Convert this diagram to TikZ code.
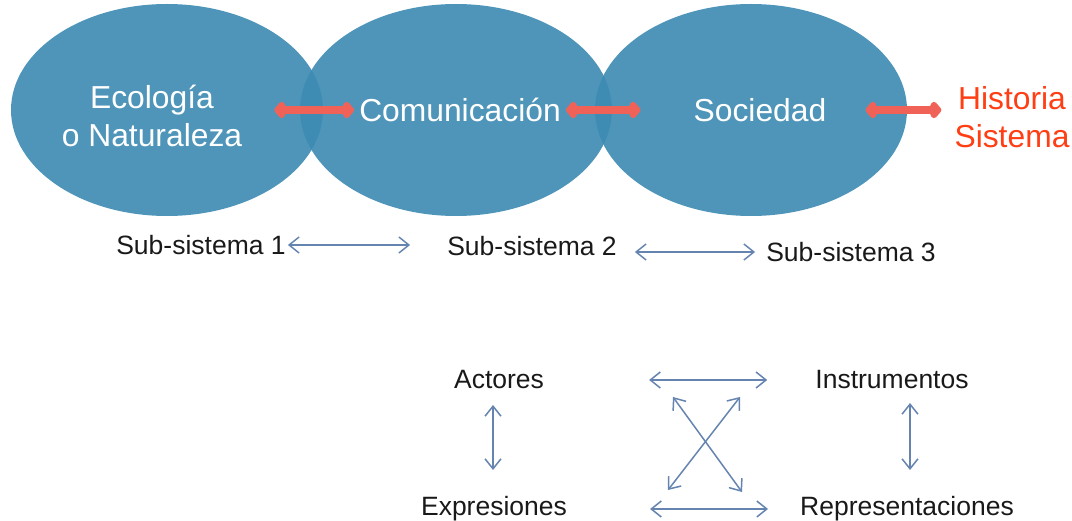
\documentclass[tikz,border=0pt]{standalone}
\usepackage{fontspec}
\setmainfont{Liberation Sans}
\usetikzlibrary{arrows.meta,positioning,shapes.geometric}
\definecolor{circblue}{RGB}{60,138,178}
\definecolor{linkred}{RGB}{240,98,88}
\definecolor{histred}{RGB}{255,62,20}
\definecolor{arrblue}{RGB}{102,132,176}
\tikzset{
  bubble/.style={ellipse, fill=circblue, fill opacity=0.9, minimum width=312, minimum height=212, inner sep=0},
  big/.style={font=\fontsize{31.8}{38}\selectfont, inner sep=0, align=center},
  small/.style={font=\fontsize{26.5}{30}\selectfont, inner sep=0, text=black!90},
  redlink/.style={draw=linkred, line width=8pt, {Kite[length=14pt,width=21pt,inset=5pt,round]}-{Kite[length=14pt,width=21pt,inset=5pt,round]}},
  bluelink/.style={draw=arrblue, line width=1.5pt, {Straight Barb[length=10pt,width=16pt]}-{Straight Barb[length=10pt,width=16pt]}}
}
\begin{document}
\begin{tikzpicture}[x=1pt,y=-1pt]
  \useasboundingbox (0,0) rectangle (1072,521);

  % the three sub-systems
  \node[bubble] (b1) at (167,110) {};
  \node[bubble] (b2) at (456,110) {};
  \node[bubble] (b3) at (751,110) {};

  \node[big, text=white] (eco) at (152,116) {Ecología\\o Naturaleza};
  \node[big, text=white] (com) at (460,110) {Comunicación};
  \node[big, text=white] (soc) at (760,110) {Sociedad};
  \node[big, text=histred] (hist) at (1012,117) {Historia\\Sistema};

  \draw[redlink, shorten <=32pt, shorten >=5pt] (eco.east |- com) -- (com.west);
  \draw[redlink, shorten <=5pt, shorten >=53pt] (com.east) -- (soc.west);
  \draw[redlink, shorten <=39pt, shorten >=13pt] (soc.east) -- (soc.east -| hist.west);

  \node[small] (ss1) at (201,245) {Sub-sistema 1};
  \node[small] (ss2) at (532,246) {Sub-sistema 2};
  \node[small] (ss3) at (851,252) {Sub-sistema 3};

  \draw[bluelink, shorten <=2pt, shorten >=37pt] (ss1.east) -- (ss1.east -| ss2.west);
  \draw[bluelink, shorten <=18pt, shorten >=11pt] (ss2.east |- ss3.west) -- (ss3.west);

  % lower square
  \node[small] (act) at (499,380) {Actores};
  \node[small] (ins) at (892,380) {Instrumentos};
  \node[small] (exp) at (494,509) {Expresiones};
  \node[small] (rep) at (907,509) {Representaciones};

  \coordinate (actlow) at (493,405);
  \coordinate (exphigh) at (493,470);
  \coordinate (inslow) at (910,403);
  \coordinate (rephigh) at (910,470);
  \coordinate (xa) at (673,397);
  \coordinate (xb) at (742,492);
  \coordinate (xc) at (740,397);
  \coordinate (xd) at (668,490);

  \draw[bluelink, shorten <=105pt, shorten >=48pt] (act.east) -- (ins.west);
  \draw[bluelink, shorten <=83pt, shorten >=32pt] (exp.east) -- (rep.west);
  \draw[bluelink] (actlow) -- (exphigh);
  \draw[bluelink] (inslow) -- (rephigh);
  \draw[bluelink] (xa) -- (xb);
  \draw[bluelink] (xc) -- (xd);
\end{tikzpicture}
\end{document}
